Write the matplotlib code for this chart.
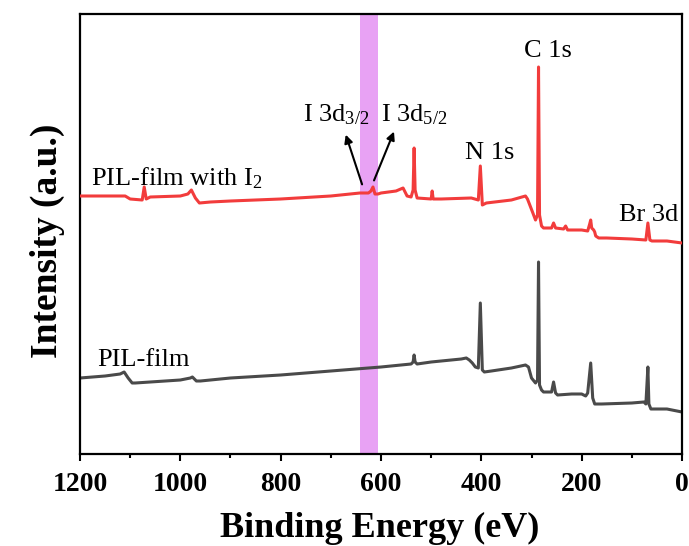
import matplotlib
matplotlib.use("Agg")
import matplotlib.pyplot as plt
from matplotlib.ticker import MultipleLocator

plt.rcParams['font.family'] = ['Liberation Serif', 'DejaVu Serif']
plt.rcParams['mathtext.fontset'] = 'custom'
plt.rcParams['mathtext.rm'] = 'Liberation Serif'
plt.rcParams['mathtext.it'] = 'Liberation Serif:italic'
plt.rcParams['mathtext.bf'] = 'Liberation Serif:bold'

# Binding energy (eV) and intensity (a.u.)
red_be = [1200, 1110, 1100, 1076, 1072, 1068, 1060, 1000, 985, 978, 970, 962, 940, 900,
          800, 700, 642, 625, 620, 616, 612, 606, 600, 570, 556, 548, 540, 536, 534, 532,
          528, 500, 498, 496, 480, 420, 406, 402, 398, 390, 340, 312, 308, 298, 292, 288,
          286, 284, 280, 276, 260, 256, 252, 236, 232, 228, 200, 188, 184, 182, 180, 176,
          174, 172, 166, 162, 150, 100, 72, 68, 64, 60, 30, 0]
red_px = [196, 196, 199, 200, 187, 199, 197, 196, 194, 190, 198, 203, 202, 201,
          199, 196, 193, 193, 191, 187, 194, 194, 193, 191, 188, 196, 197, 190, 148, 190,
          198, 199, 191, 199, 199, 198, 200, 166, 205, 203, 200, 196, 199, 212, 220, 215,
          67, 215, 226, 228, 228, 223, 228, 229, 226, 230, 230, 231, 224, 220, 228, 230,
          232, 236, 238, 238, 238, 239, 240, 223, 240, 241, 241, 243]

gray_be = [1200, 1150, 1120, 1112, 1104, 1096, 1090, 1000, 980, 976, 968, 960, 900, 800,
           700, 600, 540, 536, 534, 532, 528, 500, 440, 430, 424, 418, 412, 406, 402, 398,
           394, 380, 340, 312, 306, 300, 292, 288, 286, 284, 280, 276, 260, 256, 252, 248,
           220, 200, 192, 188, 186, 182, 178, 174, 160, 100, 76, 72, 68, 66, 62, 30, 0]
gray_px = [378, 376, 374, 372, 378, 383, 383, 380, 378, 377, 381, 381, 378, 375,
           371, 367, 364, 362, 355, 362, 364, 362, 359, 358, 360, 363, 367, 368, 303, 370,
           372, 371, 368, 365, 367, 378, 383, 380, 262, 385, 390, 392, 392, 382, 393, 395,
           394, 394, 396, 393, 383, 363, 398, 404, 404, 403, 402, 404, 367, 404, 409, 409, 412]

red_y = [454 - v for v in red_px]
gray_y = [454 - v for v in gray_px]

band = (606, 642)

fig = plt.figure(figsize=(6.89, 5.46), dpi=100)
ax = fig.add_axes([80/689, 92/546, 602/689, 440/546])

ax.axvspan(band[0], band[1], color='#e8a2f4', lw=0, zorder=0)
ax.plot(gray_be, gray_y, color='#4a4a4a', lw=2.2, zorder=2)
ax.plot(red_be, red_y, color='#f23c3c', lw=2.2, zorder=3)

ax.set_xlim(1200, 0)
ax.set_ylim(0, 440)
ax.set_yticks([])
ax.xaxis.set_major_locator(MultipleLocator(200))
ax.xaxis.set_minor_locator(MultipleLocator(100))
ax.tick_params(axis='x', which='major', direction='out', length=5, width=1.5,
               labelsize=20, pad=8)
ax.tick_params(axis='x', which='minor', direction='out', length=3, width=1.5)
for lab in ax.get_xticklabels():
    lab.set_fontweight('bold')
for s in ax.spines.values():
    s.set_linewidth(1.6)

fig.text(380/689, (546-537)/546, 'Binding Energy (eV)', fontsize=26, fontweight='bold',
         ha='center', va='baseline')
fig.text(47/689, (546-241)/546, 'Intensity (a.u.)', fontsize=27, fontweight='bold',
         ha='center', va='center', rotation=90)

fs = 19
ax.text(1178, 276, 'PIL-film with I$_2$', fontsize=fs, ha='left', va='center')
ax.text(1166, 94, 'PIL-film', fontsize=fs, ha='left', va='center')
ax.text(756, 339, 'I 3d$_{3/2}$', fontsize=fs, ha='left', va='center')
ax.text(600, 339, 'I 3d$_{5/2}$', fontsize=fs, ha='left', va='center')
ax.text(432, 301, 'N 1s', fontsize=fs, ha='left', va='center')
ax.text(314, 403, 'C 1s', fontsize=fs, ha='left', va='center')
ax.text(126, 239, 'Br 3d', fontsize=fs, ha='left', va='center')

ax.annotate('', xy=(672, 322), xytext=(636, 267),
            arrowprops=dict(arrowstyle='-|>', color='black', lw=1.5, mutation_scale=12))
ax.annotate('', xy=(572, 325), xytext=(616, 271),
            arrowprops=dict(arrowstyle='-|>', color='black', lw=1.5, mutation_scale=12))

fig.savefig('out.png', dpi=100)
